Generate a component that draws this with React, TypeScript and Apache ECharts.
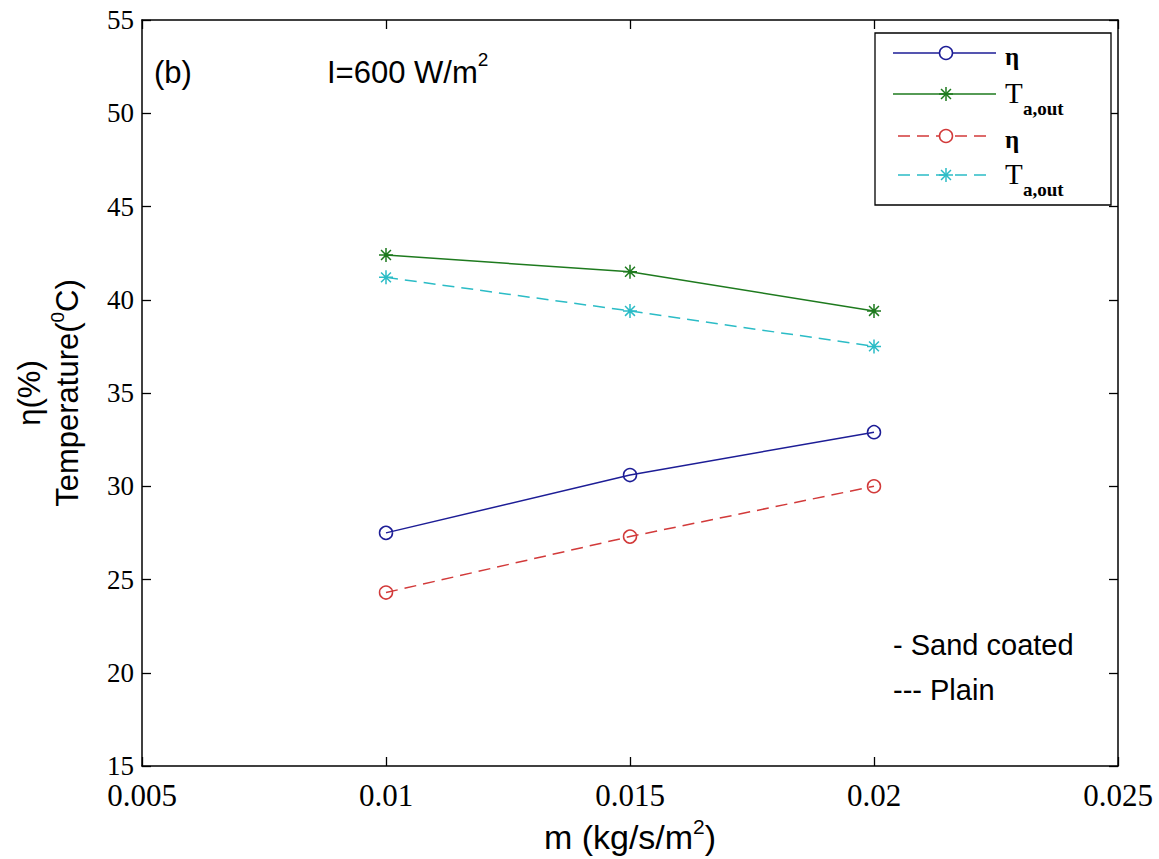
import React, { useEffect, useRef } from "react";
import * as echarts from "echarts";

// ---- data ----
const massFlow = [0.01, 0.015, 0.02];
const etaSand = [27.5, 30.6, 32.9];
const tempSand = [42.4, 41.5, 39.4];
const etaPlain = [24.3, 27.3, 30.0];
const tempPlain = [41.2, 39.4, 37.5];

const xMin = 0.005;
const xMax = 0.025;
const xStep = 0.005;
const yMin = 15;
const yMax = 55;
const yStep = 5;

const seriesNames = ["η", "T_a,out", "η (plain)", "T_a,out (plain)"];
const seriesColors = ["#1d1d96", "#1e7a1e", "#d23a3a", "#2bbcc6"];
const seriesDashed = [false, false, true, true];
const seriesSymbols = ["circle", "star", "circle", "star"];
const seriesValues = [etaSand, tempSand, etaPlain, tempPlain];

const STAR_PATH =
  "path://M0,-10L0,10M-10,0L10,0M-7.07,-7.07L7.07,7.07M-7.07,7.07L7.07,-7.07";

const SERIF = '"Liberation Serif", "Times New Roman", serif';
const SANS = '"Liberation Sans", Arial, sans-serif';

export default function App() {
  const ref = useRef<HTMLDivElement>(null);

  useEffect(() => {
    if (!ref.current) return;
    const chart = echarts.init(ref.current, undefined, { renderer: "svg" });

    const series = seriesValues.map((vals, i) => ({
      type: "line",
      name: seriesNames[i],
      data: massFlow.map((x, k) => [x, vals[k]]),
      symbol: seriesSymbols[i] === "circle" ? "circle" : STAR_PATH,
      symbolSize: seriesSymbols[i] === "circle" ? 13 : 14,
      showSymbol: true,
      lineStyle: {
        color: seriesColors[i],
        width: 1.5,
        type: seriesDashed[i] ? [12, 7] : "solid",
      },
      itemStyle: {
        color: "none",
        borderColor: seriesColors[i],
        borderWidth: 1.5,
      },
      emphasis: { disabled: true },
      z: 3,
    }));

    // legend drawn as graphic (box in upper right)
    const legendRows = [53, 94, 136, 175];
    const legendEls: any[] = [
      {
        type: "rect",
        shape: { x: 875, y: 33, width: 236, height: 172 },
        style: { fill: "#fff", stroke: "#000", lineWidth: 1.3 },
        z: 10,
      },
    ];
    legendRows.forEach((y, i) => {
      const c = seriesColors[i];
      legendEls.push({
        type: "line",
        shape: { x1: seriesDashed[i] ? 898 : 893, y1: y, x2: seriesDashed[i] ? 992 : 996, y2: y },
        style: { stroke: c, lineWidth: 1.5, lineDash: seriesDashed[i] ? [12, 7] : null },
        z: 11,
      });
      if (seriesSymbols[i] === "circle") {
        legendEls.push({
          type: "circle",
          shape: { cx: 946, cy: y, r: 6.5 },
          style: { fill: "#fff", stroke: c, lineWidth: 1.5 },
          z: 12,
        });
      } else {
        const r = 7;
        const d = r * 0.707;
        [
          [0, -r, 0, r],
          [-r, 0, r, 0],
          [-d, -d, d, d],
          [-d, d, d, -d],
        ].forEach(([a, b, cc, dd]) =>
          legendEls.push({
            type: "line",
            shape: { x1: 946 + a, y1: y + b, x2: 946 + cc, y2: y + dd },
            style: { stroke: c, lineWidth: 1.5 },
            z: 12,
          })
        );
      }
      if (i % 2 === 0) {
        legendEls.push({
          type: "text",
          x: 1005,
          y: y + 3,
          style: {
            text: "η",
            font: `bold 25px ${SERIF}`,
            fill: "#000",
            verticalAlign: "middle",
          },
          z: 12,
        });
      } else {
        legendEls.push({
          type: "text",
          x: 1005,
          y: y - 1,
          style: {
            text: "T",
            font: `29px ${SERIF}`,
            fill: "#000",
            verticalAlign: "middle",
          },
          z: 12,
        });
        legendEls.push({
          type: "text",
          x: 1023,
          y: y + 14,
          style: {
            text: "a,out",
            font: `bold 19px ${SERIF}`,
            fill: "#000",
            verticalAlign: "middle",
          },
          z: 12,
        });
      }
    });

    const option: any = {
      animation: false,
      backgroundColor: "#fff",
      grid: { left: 142, top: 20, right: 41, bottom: 92, containLabel: false },
      xAxis: [
        {
          type: "value",
          position: "bottom",
          min: xMin,
          max: xMax,
          interval: xStep,
          axisLine: { show: true, lineStyle: { color: "#000", width: 1.5 } },
          axisTick: { show: true, inside: true, length: 9, lineStyle: { color: "#000", width: 1.3 } },
          axisLabel: {
            color: "#000",
            fontFamily: SERIF,
            fontSize: 31,
            margin: 14,
            formatter: (v: number) => String(parseFloat(v.toFixed(3))),
          },
          splitLine: { show: false },
          name: "{a|m (kg/s/m}{s|2}{a|)}",
          nameLocation: "middle",
          nameGap: 50,
          nameTextStyle: {
            rich: {
              a: { fontFamily: SANS, fontSize: 34, color: "#000", lineHeight: 42 },
              s: { fontFamily: SANS, fontSize: 21, color: "#000", verticalAlign: "top", lineHeight: 21 },
            },
          },
        },
        {
          type: "value",
          position: "top",
          min: xMin,
          max: xMax,
          interval: xStep,
          axisLine: { show: true, lineStyle: { color: "#000", width: 1.5 } },
          axisTick: { show: true, inside: true, length: 9, lineStyle: { color: "#000", width: 1.3 } },
          axisLabel: { show: false },
          splitLine: { show: false },
        },
      ],
      yAxis: [
        {
          type: "value",
          position: "left",
          min: yMin,
          max: yMax,
          interval: yStep,
          axisLine: { show: true, lineStyle: { color: "#000", width: 1.5 } },
          axisTick: { show: true, inside: true, length: 9, lineStyle: { color: "#000", width: 1.3 } },
          axisLabel: { color: "#000", fontFamily: SERIF, fontSize: 27, margin: 8 },
          splitLine: { show: false },
          name: "{a|η(%)}\n{a|Temperature(}{s|0}{a|C)}",
          nameLocation: "middle",
          nameRotate: 90,
          nameGap: 56,
          nameTextStyle: {
            align: "center",
            rich: {
              a: { fontFamily: SANS, fontSize: 31, color: "#000", lineHeight: 38, align: "center" },
              s: { fontFamily: SANS, fontSize: 19, color: "#000", verticalAlign: "top", lineHeight: 19 },
            },
          },
        },
        {
          type: "value",
          position: "right",
          min: yMin,
          max: yMax,
          interval: yStep,
          axisLine: { show: true, lineStyle: { color: "#000", width: 1.5 } },
          axisTick: { show: true, inside: true, length: 9, lineStyle: { color: "#000", width: 1.3 } },
          axisLabel: { show: false },
          splitLine: { show: false },
        },
      ],
      series,
      graphic: [
        {
          type: "text",
          x: 154,
          y: 72,
          style: { text: "(b)", font: `31px ${SANS}`, fill: "#000", verticalAlign: "middle" },
        },
        {
          type: "text",
          x: 327,
          y: 72,
          style: {
            text: "{a|I=600 W/m}{s|2}",
            fill: "#000",
            verticalAlign: "middle",
            rich: {
              a: { fontFamily: SANS, fontSize: 31, lineHeight: 44, fill: "#000" },
              s: { fontFamily: SANS, fontSize: 19, lineHeight: 19, verticalAlign: "top", fill: "#000" },
            },
          },
        },
        {
          type: "text",
          x: 893,
          y: 645,
          style: { text: "- Sand coated", font: `29px ${SANS}`, fill: "#000", verticalAlign: "middle" },
        },
        {
          type: "text",
          x: 893,
          y: 690,
          style: { text: "--- Plain", font: `29px ${SANS}`, fill: "#000", verticalAlign: "middle" },
        },
        ...legendEls,
      ],
    };

    chart.setOption(option);
    return () => chart.dispose();
  }, []);

  return (
    <div
      ref={ref}
      style={{ position: "fixed", left: 0, top: 0, width: 1159, height: 859, background: "#fff" }}
    />
  );
}
